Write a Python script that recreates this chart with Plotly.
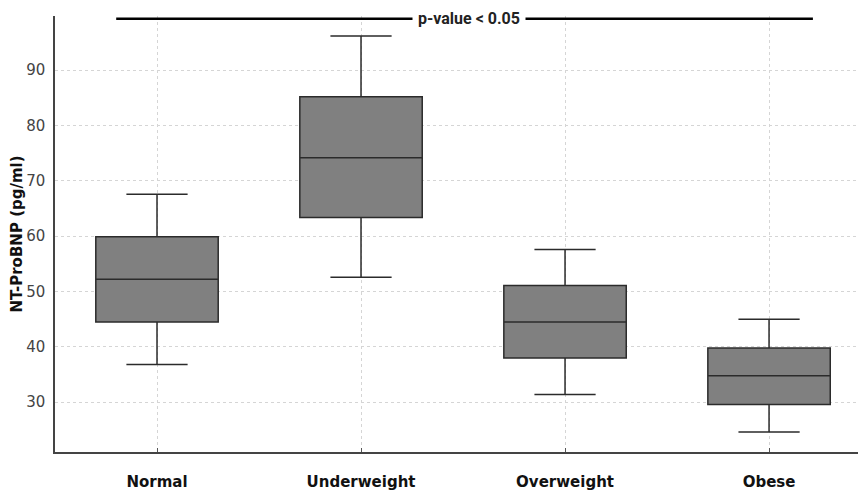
import plotly.graph_objects as go

# NT-ProBNP summary statistics per BMI group
groups = ["Normal", "Underweight", "Overweight", "Obese"]
lower_whisker = [36.8, 52.6, 31.4, 24.6]
q1 = [44.5, 63.4, 38.0, 29.6]
median = [52.2, 74.2, 44.5, 34.8]
q3 = [59.9, 85.2, 51.1, 39.8]
upper_whisker = [67.6, 96.2, 57.6, 45.0]

y_ticks = [30, 40, 50, 60, 70, 80, 90]
sig_label = "p-value < 0.05"
sig_level = 99.3

fig = go.Figure()
fig.add_trace(go.Box(
    x=groups,
    q1=q1,
    median=median,
    q3=q3,
    lowerfence=lower_whisker,
    upperfence=upper_whisker,
    fillcolor="#808080",
    line=dict(color="#2b2b2b", width=1.5),
    width=0.6,
    whiskerwidth=0.5,
    boxpoints=False,
    hoverinfo="skip",
    showlegend=False,
))

# significance bracket across all groups
fig.add_shape(type="line", xref="x", yref="y",
              x0=-0.2, x1=3.215, y0=sig_level, y1=sig_level,
              line=dict(color="black", width=2.5))
fig.add_annotation(x=1.53, y=sig_level, xref="x", yref="y",
                   text="<b>" + sig_label + "</b>", showarrow=False,
                   bgcolor="white", borderpad=5,
                   font=dict(family="Liberation Sans Narrow, Roboto, sans-serif",
                             size=16, color="#222"))

fig.update_layout(
    width=858, height=490,
    margin=dict(l=55, r=0, t=16, b=38),
    paper_bgcolor="white", plot_bgcolor="white",
    font=dict(family="DejaVu Sans", color="#444"),
)
fig.update_xaxes(
    type="category", range=[-0.5, 3.436],
    showline=True, linecolor="#444", linewidth=1.5,
    showgrid=True, gridcolor="#d5d5d5", griddash="dot", gridwidth=1,
    ticks="inside", ticklen=4, tickcolor="#555",
    tickfont=dict(family="DejaVu Sans", size=15, color="#111"),
    tickprefix="<b>", ticksuffix="</b>",
    ticklabelstandoff=15,
    automargin=False,
    zeroline=False,
)
fig.update_yaxes(
    range=[21.0, 99.8],
    tickvals=y_ticks,
    showline=True, linecolor="#444", linewidth=1.5,
    showgrid=True, gridcolor="#d5d5d5", griddash="dot", gridwidth=1,
    ticks="", tickfont=dict(family="DejaVu Sans", size=15, color="#444"),
    ticklabelstandoff=5,
    automargin=False,
    title=dict(text="<b>NT-ProBNP (pg/ml)</b>", standoff=0,
               font=dict(family="DejaVu Sans", size=15, color="#111")),
    zeroline=False,
)

fig.write_html("out.html")
